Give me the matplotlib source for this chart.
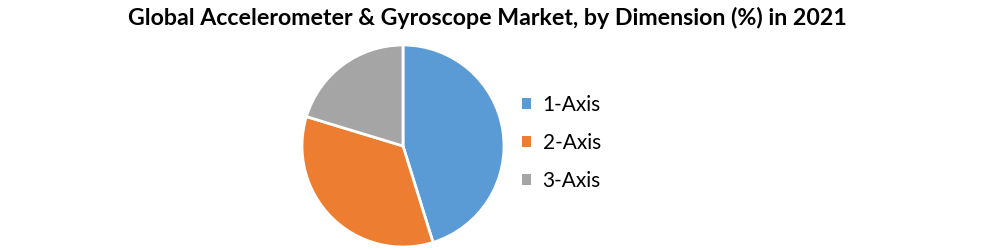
import matplotlib.pyplot as plt
from matplotlib.patches import Patch

labels = ["1-Axis", "2-Axis", "3-Axis"]
shares = [45.2, 34.5, 20.3]
colors = ["#5B9BD5", "#ED7D31", "#A5A5A5"]
title = "Global Accelerometer & Gyroscope Market, by Dimension (%) in 2021"

W, H = 994, 250
fig = plt.figure(figsize=(W / 100, H / 100), dpi=100)

# pie centred at (403, 146) px from top-left, radius ~101 px
cx, cy, r = 403, 146, 101
ax = fig.add_axes([(cx - r) / W, (H - cy - r) / H, 2 * r / W, 2 * r / H])
ax.pie(shares, colors=colors, startangle=90, counterclock=False,
       wedgeprops=dict(edgecolor="white", linewidth=2))
ax.set_xlim(-1, 1)
ax.set_ylim(-1, 1)
ax.set_aspect("equal")
ax.axis("off")

fig.text(487 / W, 1 - 18 / H, title, ha="center", va="center",
         fontsize=16.7, fontweight="bold", family="Lato")

handles = [Patch(facecolor=c, edgecolor="none") for c in colors]
fig.legend(handles, labels, loc="center left",
           bbox_to_anchor=(503 / W, 1 - 143 / H), frameon=False,
           prop=dict(family="Lato", size=15), handlelength=0.45,
           handleheight=0.45, handletextpad=0.55, labelspacing=0.85)

fig.savefig("out.png", dpi=100)
